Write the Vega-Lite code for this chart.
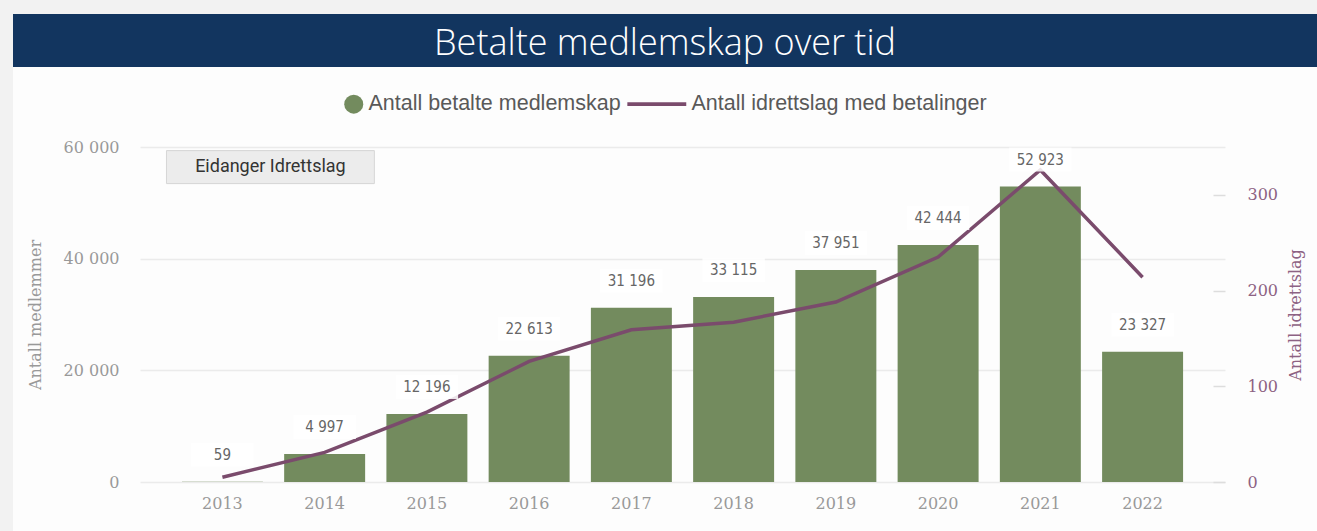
{
  "$schema": "https://vega.github.io/schema/vega-lite/v6.json",
  "background": "#fdfdfd",
  "padding": 0,
  "config": {
    "locale": {"number": {"decimal": ",", "thousands": " ", "grouping": [3], "currency": ["", " kr"]}},
    "view": {"stroke": null}
  },
  "datasets": {
    "medlemskap": [
      {"aar": "2013", "medlemskap": 59, "idrettslag": 5},
      {"aar": "2014", "medlemskap": 4997, "idrettslag": 31},
      {"aar": "2015", "medlemskap": 12196, "idrettslag": 73},
      {"aar": "2016", "medlemskap": 22613, "idrettslag": 126},
      {"aar": "2017", "medlemskap": 31196, "idrettslag": 159},
      {"aar": "2018", "medlemskap": 33115, "idrettslag": 167},
      {"aar": "2019", "medlemskap": 37951, "idrettslag": 188},
      {"aar": "2020", "medlemskap": 42444, "idrettslag": 235},
      {"aar": "2021", "medlemskap": 52923, "idrettslag": 326},
      {"aar": "2022", "medlemskap": 23327, "idrettslag": 214}
    ]
  },
  "spacing": 0,
  "vconcat": [
    {
      "spacing": 0,
      "vconcat": [
        {
          "width": 1317, "height": 14,
          "view": {"fill": "#f2f2f2", "stroke": null},
          "data": {"values": [{}]},
          "mark": {"type": "text", "text": ""}
        },
        {
          "spacing": 0,
          "hconcat": [
            {
              "width": 13, "height": 53,
              "view": {"fill": "#f2f2f2", "stroke": null},
              "data": {"values": [{}]},
              "mark": {"type": "text", "text": ""}
            },
            {
              "width": 1304, "height": 53,
              "view": {"fill": "#12355f", "stroke": null},
              "data": {"values": [{"tittel": "Betalte medlemskap over tid"}]},
              "mark": {"type": "text", "font": "Open Sans", "fontSize": 36, "fontWeight": 300, "fill": "#ffffff", "align": "center", "baseline": "middle", "dy": 3},
              "encoding": {"text": {"field": "tittel"}}
            }
          ]
        }
      ]
    },
    {
      "spacing": 14,
      "hconcat": [
        {
          "width": 13, "height": 464,
          "view": {"fill": "#f2f2f2", "stroke": null},
          "data": {"values": [{}]},
          "mark": {"type": "text", "text": ""}
        },
        {
          "spacing": 0,
          "vconcat": [
            {
              "width": 1, "height": 72,
              "data": {"values": [{}]},
              "mark": {"type": "text", "text": ""}
            },
            {
              "width": 1085, "height": 335,
              "view": {"stroke": null},
              "data": {"name": "medlemskap"},
              "encoding": {
                "x": {
                  "field": "aar", "type": "ordinal",
                  "scale": {"paddingInner": 0.208, "paddingOuter": 0.41},
                  "axis": {"title": null, "labelFont": "DejaVu Serif", "labelFontSize": 16, "labelColor": "#999999", "labelPadding": 13, "ticks": false, "tickSize": 0, "domain": false, "labelAngle": 0, "grid": false}
                }
              },
              "layer": [
                {
                  "mark": {"type": "bar", "fill": "#738b5e"},
                  "encoding": {
                    "y": {
                      "field": "medlemskap", "type": "quantitative",
                      "scale": {"domain": [0, 60000]},
                      "axis": {"orient": "left", "title": "Antall medlemmer", "values": [0, 20000, 40000, 60000], "format": ",d",
                        "labelFont": "DejaVu Serif", "labelFontSize": 16, "labelColor": "#999999", "labelPadding": 21,
                        "ticks": false, "tickSize": 0, "domain": false, "grid": true, "gridColor": "#ebebeb", "gridWidth": 1.5,
                        "titleFont": "DejaVu Serif", "titleFontSize": 16, "titleFontWeight": "normal", "titleColor": "#999999", "titlePadding": 20}
                    }
                  }
                },
                {
                  "mark": {"type": "line", "stroke": "#7a4b6c", "strokeWidth": 3.5},
                  "encoding": {
                    "y": {
                      "field": "idrettslag", "type": "quantitative",
                      "scale": {"domain": [0, 350]},
                      "axis": {"orient": "right", "title": "Antall idrettslag", "values": [0, 100, 200, 300], "offset": -12,
                        "tickSize": 12, "tickColor": "#dddddd", "tickWidth": 1.5, "domain": false, "grid": false,
                        "labelFont": "DejaVu Serif", "labelFontSize": 16, "labelColor": "#8d6283", "labelPadding": 22,
                        "titleFont": "DejaVu Serif", "titleFontSize": 16, "titleFontWeight": "normal", "titleColor": "#8d6283", "titlePadding": 26, "titleAngle": -90}
                    }
                  }
                },
                {
                  "mark": {"type": "point", "shape": "M-2.6,-1L2.6,-1L2.6,1L-2.6,1Z", "size": 576, "filled": true, "fill": "#ffffff", "opacity": 0.85, "strokeWidth": 0, "yOffset": -27},
                  "encoding": {
                    "y": {"field": "medlemskap", "type": "quantitative", "scale": {"domain": [0, 60000]}, "axis": null}
                  }
                },
                {
                  "mark": {"type": "text", "font": "DejaVu Sans Condensed, Roboto", "fontSize": 15, "fill": "#666666", "yOffset": -27, "baseline": "middle", "align": "center"},
                  "encoding": {
                    "y": {"field": "medlemskap", "type": "quantitative", "scale": {"domain": [0, 60000]}, "axis": null},
                    "text": {"field": "medlemskap", "type": "quantitative", "format": ",d"}
                  }
                },
                {
                  "data": {"values": [{"navn": "Eidanger Idrettslag"}]},
                  "mark": {"type": "point", "shape": "M-6.3,-1L6.3,-1L6.3,1L-6.3,1Z", "size": 1089, "filled": true, "fill": "#ececec", "stroke": "#d6d6d6", "strokeWidth": 1, "opacity": 1, "xOffset": 48},
                  "encoding": {
                    "x": {"datum": "2013"},
                    "y": {"datum": 56400, "type": "quantitative", "scale": {"domain": [0, 60000]}, "axis": null}
                  }
                },
                {
                  "data": {"values": [{"navn": "Eidanger Idrettslag"}]},
                  "mark": {"type": "text", "font": "Roboto", "fontSize": 18, "fill": "#333333", "xOffset": 48, "align": "center", "baseline": "middle"},
                  "encoding": {
                    "x": {"datum": "2013"},
                    "y": {"datum": 56400, "type": "quantitative", "scale": {"domain": [0, 60000]}, "axis": null},
                    "text": {"field": "navn"}
                  }
                },
                {
                  "data": {"values": [{"serie": "Antall betalte medlemskap"}, {"serie": "Antall idrettslag med betalinger"}]},
                  "mark": {"type": "point", "filled": true, "opacity": 0},
                  "encoding": {
                    "x": {"datum": "2013"},
                    "color": {
                      "field": "serie", "type": "nominal",
                      "scale": {"domain": ["Antall betalte medlemskap", "Antall idrettslag med betalinger"], "range": ["#738b5e", "#7a4b6c"]},
                      "legend": {"orient": "none", "legendX": 343, "legendY": 93, "padding": 0, "direction": "horizontal", "title": null,
                        "labelFont": "Liberation Sans", "labelFontSize": 21.5, "labelColor": "#595959", "labelLimit": 500, "labelOffset": 4,
                        "symbolSize": 361, "symbolOpacity": 1, "symbolStrokeWidth": 0, "columnPadding": 6}
                    },
                    "shape": {
                      "field": "serie", "type": "nominal",
                      "scale": {"domain": ["Antall betalte medlemskap", "Antall idrettslag med betalinger"], "range": ["circle", "M-5.2,-0.21L1,-0.21L1,0.21L-5.2,0.21Z"]},
                      "legend": {"orient": "none", "legendX": 343, "legendY": 93, "padding": 0, "direction": "horizontal", "title": null,
                        "labelFont": "Liberation Sans", "labelFontSize": 21.5, "labelColor": "#595959", "labelLimit": 500, "labelOffset": 4,
                        "symbolSize": 361, "symbolOpacity": 1, "symbolStrokeWidth": 0, "columnPadding": 6}
                    }
                  }
                }
              ],
              "resolve": {"scale": {"y": "independent"}}
            }
          ]
        }
      ]
    }
  ]
}
